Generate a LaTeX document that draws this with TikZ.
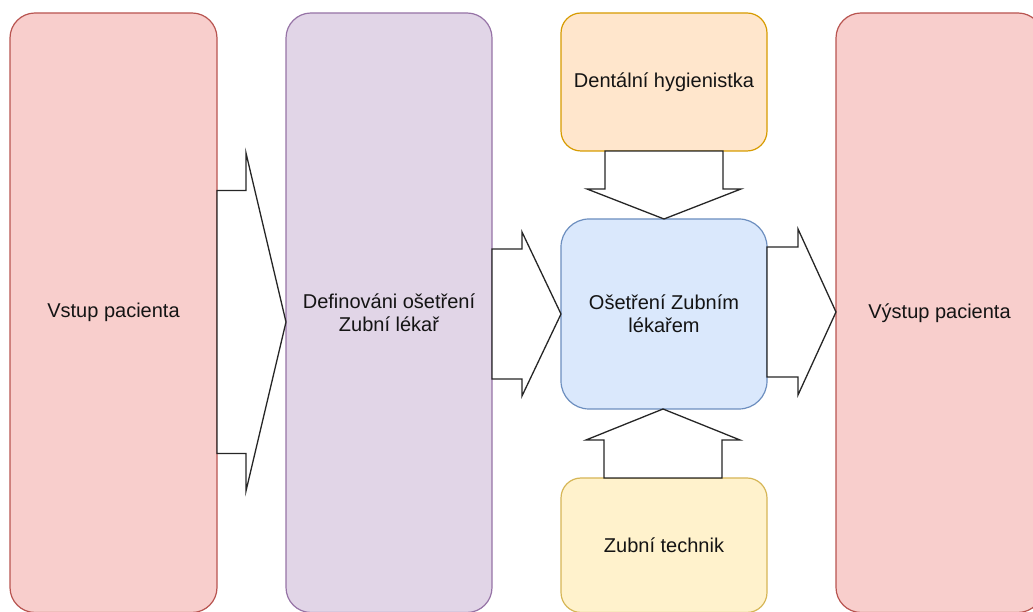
\documentclass[tikz,border=0pt]{standalone}
\usepackage{fontspec}
\setmainfont{Liberation Sans}
\usetikzlibrary{positioning,calc}
\definecolor{redfill}{HTML}{F8CECC}
\definecolor{redline}{HTML}{B85450}
\definecolor{purplefill}{HTML}{E1D5E7}
\definecolor{purpleline}{HTML}{9673A6}
\definecolor{orangefill}{HTML}{FFE6CC}
\definecolor{orangeline}{HTML}{D79B00}
\definecolor{bluefill}{HTML}{DAE8FC}
\definecolor{blueline}{HTML}{6C8EBF}
\definecolor{yellowfill}{HTML}{FFF2CC}
\definecolor{yellowline}{HTML}{D6B656}
\tikzset{
    % Define box style
    box/.style={
           draw,
           rectangle,
           line width=1.2pt,
           align=center,
           inner sep=0pt,
           outer sep=0pt,
           text=black!92,
           font=\fontsize{20}{23}\selectfont},
    % Define block arrow style
    blockarrow/.style={
           draw=black!85,
           fill=white,
           line width=1.3pt,
           line join=miter}
}
\newcommand{\boxwidth}{206pt}
\newcommand{\tallheight}{599.5pt}
% block arrow to the right: from, to, y, shaft half, head half, head length
\newcommand{\arrowright}[6]{%
  \draw[blockarrow] let \p1=(#1.east), \p2=(#2.west) in
    (\x1,#3+#4) -- (\x2-#6,#3+#4) -- (\x2-#6,#3+#5) -- (\x2,#3)
    -- (\x2-#6,#3-#5) -- (\x2-#6,#3-#4) -- (\x1,#3-#4) -- cycle;}
% block arrow downwards: from, to, x, shaft half, head half, head length
\newcommand{\arrowdown}[6]{%
  \draw[blockarrow] let \p1=(#1.south), \p2=(#2.north) in
    (#3-#4,\y1) -- (#3-#4,\y2+#6) -- (#3-#5,\y2+#6) -- (#3,\y2)
    -- (#3+#5,\y2+#6) -- (#3+#4,\y2+#6) -- (#3+#4,\y1) -- cycle;}
% block arrow upwards: from, to, x, shaft half, head half, head length
\newcommand{\arrowup}[6]{%
  \draw[blockarrow] let \p1=(#1.north), \p2=(#2.south) in
    (#3-#4,\y1) -- (#3-#4,\y2-#6) -- (#3-#5,\y2-#6) -- (#3,\y2)
    -- (#3+#5,\y2-#6) -- (#3+#4,\y2-#6) -- (#3+#4,\y1) -- cycle;}

\begin{document}
\begin{tikzpicture}[x=1pt, y=1pt]
\useasboundingbox (0,0) rectangle (1033,612);

\node[box, fill=redfill, draw=redline, rounded corners=25pt, minimum width=207pt, minimum height=\tallheight, anchor=north west] (vstup) at (10,599) {Vstup pacienta};
\node[box, fill=purplefill, draw=purpleline, rounded corners=25pt, minimum width=\boxwidth, minimum height=\tallheight] (definovani) [right=69pt of vstup] {Definováni ošetření\\Zubní lékař};

\node[box, fill=orangefill, draw=orangeline, rounded corners=20pt, minimum width=\boxwidth, minimum height=138pt, anchor=north west] (hygienistka) at (561,599) {Dentální hygienistka};
\node[box, fill=bluefill, draw=blueline, rounded corners=28pt, minimum width=\boxwidth, minimum height=190pt] (osetreni) [below=68pt of hygienistka] {Ošetření Zubním\\lékařem};
\node[box, fill=yellowfill, draw=yellowline, rounded corners=20pt, minimum width=\boxwidth, minimum height=134.5pt] (technik) [below=69pt of osetreni] {Zubní technik};

\node[box, fill=redfill, draw=redline, rounded corners=25pt, minimum width=207pt, minimum height=\tallheight, anchor=north west] (vystup) at (836,599) {Výstup pacienta};

\arrowright{vstup}{definovani}{290}{131.5}{169}{40}
\arrowright{definovani}{osetreni}{298}{65}{82}{39}
\arrowright{osetreni}{vystup}{300}{65}{83}{38}
\arrowdown{hygienistka}{osetreni}{664}{59}{77}{30}
\arrowup{technik}{osetreni}{663}{59}{77}{31}

\end{tikzpicture}
\end{document}
